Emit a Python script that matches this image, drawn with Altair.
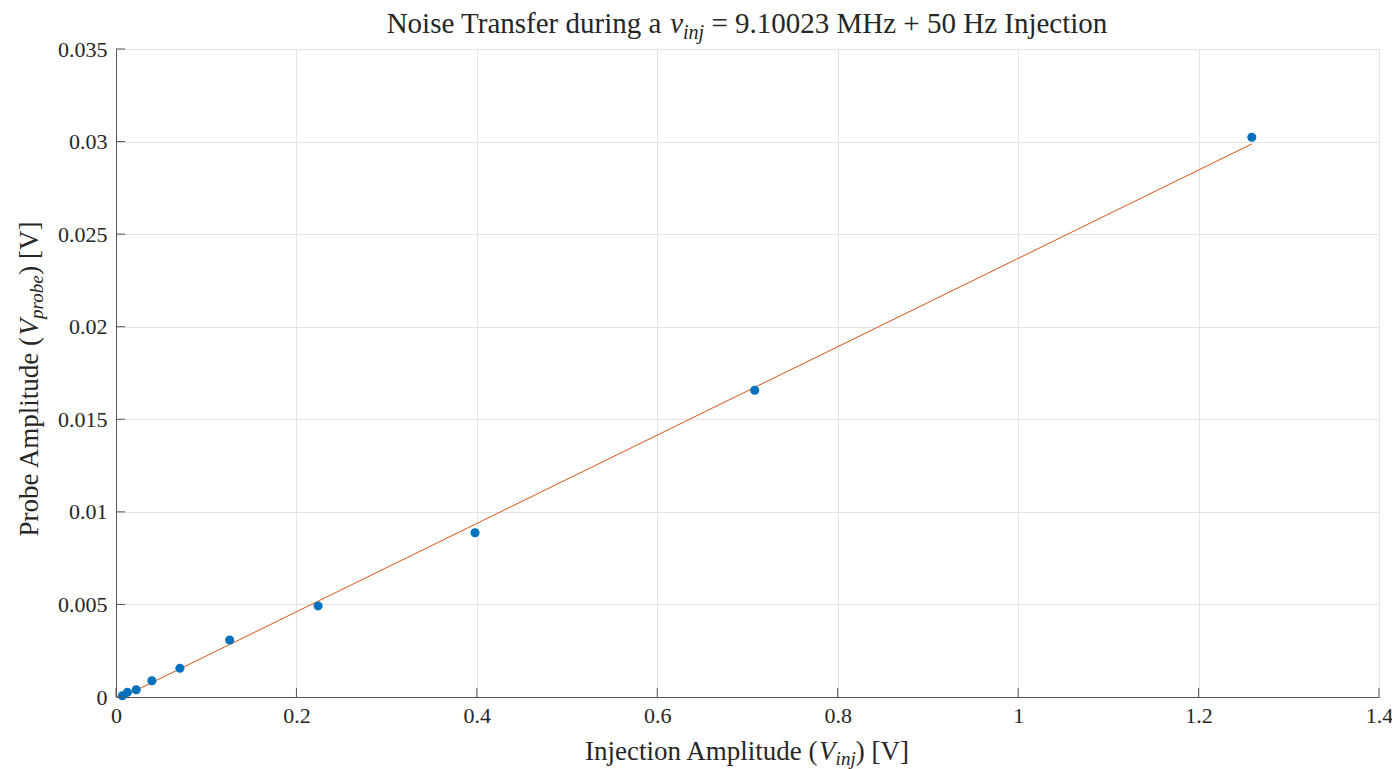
import altair as alt
import pandas as pd

# ---------------- data ----------------
x_inj = [0.00708, 0.0126, 0.0224, 0.0398, 0.0708, 0.126, 0.224, 0.398, 0.708, 1.259]
v_probe = [0.00007, 0.00025, 0.00039, 0.00088, 0.00155, 0.00308, 0.00492, 0.00887, 0.01657, 0.03023]
fit_x = [0.00708, 1.259]
fit_y = [0.0, 0.02987]
x_ticks = [0, 0.2, 0.4, 0.6, 0.8, 1.0, 1.2, 1.4]
y_ticks = [0, 0.005, 0.01, 0.015, 0.02, 0.025, 0.03, 0.035]

W, H = 1263, 648
FONT = "Liberation Serif"
TXT = "#262626"
AX = "#555555"
GRID = "#e3e3e3"

pts = pd.DataFrame({"x": x_inj, "y": v_probe})
fit = pd.DataFrame({"x": fit_x, "y": fit_y})

xs = alt.Scale(domain=[0, 1.4], nice=False, zero=False)
ys = alt.Scale(domain=[0, 0.035], nice=False, zero=False)

xaxis = alt.Axis(values=x_ticks, format="~f", ticks=False, domainColor=AX, domainWidth=1,
                 labelFont=FONT, labelFontSize=22, labelColor=TXT, labelPadding=8,
                 labelFlush=False, labelOverlap=False, gridColor=GRID, gridWidth=1, title=None)
yaxis = alt.Axis(values=y_ticks, format="~f", ticks=False, domainColor=AX, domainWidth=1,
                 labelFont=FONT, labelFontSize=22, labelColor=TXT, labelPadding=9,
                 labelFlush=False, labelOverlap=False, gridColor=GRID, gridWidth=1, title=None)

line = alt.Chart(fit).mark_line(color="#D95319", strokeWidth=1).encode(
    x=alt.X("x:Q", scale=xs, axis=xaxis), y=alt.Y("y:Q", scale=ys, axis=yaxis))
points = alt.Chart(pts).mark_circle(color="#0072BD", size=82, opacity=1).encode(
    x=alt.X("x:Q", scale=xs), y=alt.Y("y:Q", scale=ys))

# inward ticks (MATLAB style)
xt = alt.Chart(pd.DataFrame({"x": x_ticks})).mark_rule(color=AX, strokeWidth=1).encode(
    x=alt.X("x:Q", scale=xs), y=alt.value(H), y2=alt.value(H - 9))
yt = alt.Chart(pd.DataFrame({"y": y_ticks})).mark_rule(color=AX, strokeWidth=1).encode(
    y=alt.Y("y:Q", scale=ys), x=alt.value(0), x2=alt.value(9))

# ---------------- rich text (subscripts) ----------------
REG = {' ': 250, '(': 333, ')': 333, '[': 333, ']': 333, '+': 564, '=': 564, '.': 250,
       'A': 722, 'H': 722, 'I': 333, 'M': 889, 'N': 722, 'P': 556, 'T': 611, 'V': 722,
       'a': 444, 'b': 500, 'c': 444, 'd': 500, 'e': 444, 'f': 333, 'g': 500, 'i': 278,
       'j': 278, 'l': 278, 'm': 778, 'n': 500, 'o': 500, 'p': 500, 'r': 333, 's': 389,
       't': 278, 'u': 500, 'z': 444}
ITA = {'V': 611, 'i': 278, 'n': 500, 'j': 278, 'p': 500, 'r': 389, 'o': 500, 'b': 500,
       'e': 444, 'ν': 444}


def tw(s, italic, size):
    tab = ITA if italic else REG
    return sum(tab.get(c, 500) for c in s) / 1000.0 * size


def rich(segments, center, base, size, sub_size, sub_shift, vertical=False):
    """segments: list of (text, italic, subscript)"""
    widths = [tw(t, it, sub_size if sb else size) for t, it, sb in segments]
    total = sum(widths)
    layers = []
    pos = -total / 2.0
    for (t, it, sb), w in zip(segments, widths):
        fs = sub_size if sb else size
        lead = len(t) - len(t.lstrip(" "))
        start = pos + tw(" " * lead, it, fs)
        txt = t.strip(" ")
        off = sub_shift if sb else 0
        df = pd.DataFrame({"t": [txt]})
        kw = dict(font=FONT, fontSize=fs, color=TXT, align="left", baseline="alphabetic",
                  fontStyle="italic" if it else "normal")
        if vertical:
            m = alt.Chart(df).mark_text(angle=270, **kw).encode(
                text="t:N", x=alt.value(base + off), y=alt.value(center - start))
        else:
            m = alt.Chart(df).mark_text(**kw).encode(
                text="t:N", x=alt.value(center + start), y=alt.value(base + off))
        layers.append(m)
        pos += w
    return layers


title_layers = rich([("Noise Transfer during a ", False, False), ("ν", True, False),
                     ("inj", True, True), (" = 9.10023 MHz + 50 Hz Injection", False, False)],
                    center=631, base=-16, size=29, sub_size=20, sub_shift=6)
xtitle_layers = rich([("Injection Amplitude (", False, False), ("V", True, False),
                      ("inj", True, True), (") [V]", False, False)],
                     center=631, base=711, size=27, sub_size=19, sub_shift=5)
ytitle_layers = rich([("Probe Amplitude (", False, False), ("V", True, False),
                      ("probe", True, True), (") [V]", False, False)],
                     center=330, base=-78, size=27, sub_size=19, sub_shift=5, vertical=True)

chart = alt.layer(line, points, xt, yt, *title_layers, *xtitle_layers, *ytitle_layers).properties(
    width=W, height=H,
    autosize=alt.AutoSizeParams(type="none"),
    padding={"left": 108, "top": 41, "right": 13, "bottom": 72},
).configure_view(stroke=None).configure(background="white")

chart.save("out.html", embed_options={"renderer": "svg", "actions": False})
